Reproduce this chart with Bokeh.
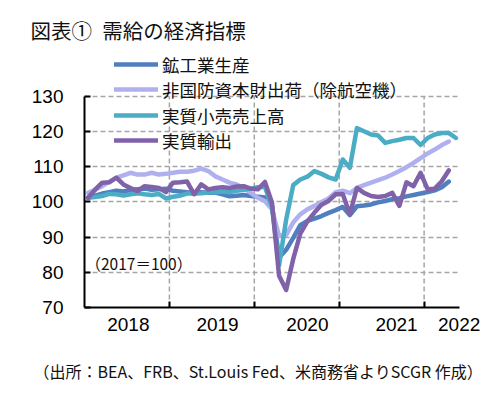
from bokeh.plotting import figure
from bokeh.models import FixedTicker, Legend, LegendItem, Title, Label, Range1d, LinearAxis
from bokeh.embed import file_html
from bokeh.resources import INLINE

# Monthly index, Jan 2018 = 0
ip = [101.2, 101.8, 102.4, 102.8, 103.2, 103.0, 103.4, 103.6, 103.8, 103.5, 103.6, 103.8,
      103.2, 103.0, 102.8, 102.4, 102.8, 102.6, 102.7, 102.2, 101.6, 101.8, 102.0, 101.7,
      101.5, 101.3, 98.9, 84.2, 86.4, 89.8, 93.4, 94.6, 95.3, 96.0, 96.9, 97.7,
      98.6, 96.3, 98.8, 99.0, 99.3, 99.9, 100.3, 100.8, 101.1, 101.6, 102.0, 102.4,
      102.8, 103.3, 104.2, 105.8]
capgoods = [102.6, 103.5, 104.5, 105.8, 106.9, 107.6, 108.3, 107.8, 107.8, 108.3, 107.8, 108.0,
            108.3, 108.6, 108.6, 108.9, 109.5, 108.8, 107.3, 106.4, 105.5, 105.0, 104.0, 102.6,
            101.2, 100.3, 97.9, 90.4, 90.6, 94.2, 96.5, 97.9, 98.9, 100.0, 101.0, 102.8,
            103.2, 102.5, 104.0, 104.8, 105.5, 106.2, 106.9, 107.8, 108.8, 109.9, 111.1, 112.5,
            113.8, 114.9, 116.2, 117.2]
retail = [101.2, 101.4, 101.7, 102.3, 102.2, 101.8, 102.2, 102.5, 102.2, 102.0, 102.3, 101.0,
          101.5, 101.8, 102.4, 102.4, 102.5, 102.7, 102.8, 103.0, 102.8, 103.2, 103.5, 103.8,
          104.2, 104.3, 98.5, 82.0, 95.0, 104.8, 106.4, 107.2, 108.8, 108.0, 107.0, 106.4,
          112.1, 109.7, 121.0, 120.1, 119.2, 118.9, 116.8, 117.3, 117.7, 118.2, 118.2, 116.2,
          118.2, 119.2, 119.6, 119.6, 118.2]
exports = [101.2, 103.5, 105.5, 105.6, 106.9, 105.0, 104.0, 103.1, 104.5, 104.3, 104.0, 102.8,
           105.5, 105.6, 105.8, 102.2, 105.0, 103.6, 104.0, 104.2, 104.0, 104.4, 104.5, 103.8,
           103.6, 105.7, 99.8, 79.0, 75.0, 83.8, 91.0, 94.5, 97.0, 99.2, 100.3, 102.2,
           102.3, 96.5, 104.0, 102.6, 101.7, 101.4, 101.7, 102.6, 98.9, 105.6, 104.5, 108.3,
           103.6, 103.8, 105.9, 109.0]

series_names = ["鉱工業生産", "非国防資本財出荷（除航空機）", "実質小売売上高", "実質輸出"]
series_colors = ["#4f7fbf", "#b0b0f0", "#4bacc6", "#7f62a8"]

year_boundaries = [12, 24, 36, 48]
year_labels = ["2018", "2019", "2020", "2021", "2022"]
year_label_pos = [6.2, 18.8, 31.5, 44.1, 52.95]
y_ticks = [70, 80, 90, 100, 110, 120, 130]

title_text = "図表①\u2002需給の経済指標"
source_text = "（出所：BEA、FRB、St.Louis Fed、米商務省よりSCGR 作成）"
base_text = "（2017＝100）"

JP = "Noto Sans CJK JP"
LAT = "Liberation Sans"
GRID = "#a6a6a6"

p = figure(width=487, height=393, output_backend="svg", toolbar_location=None,
           x_range=Range1d(0, 53), y_range=Range1d(70, 144.5),
           min_border_left=84, min_border_right=28, min_border_top=45, min_border_bottom=86)
p.outline_line_color = None
p.background_fill_color = "white"

p.title = Title(text=title_text, text_font=JP, text_font_size="20.5px", text_font_style="normal",
                text_color="#111111", offset=-54, standoff=1)

# vertical dashed grid lines between years (only across the value band)
p.segment(x0=year_boundaries, y0=[min(y_ticks)] * len(year_boundaries),
          x1=year_boundaries, y1=[max(y_ticks)] * len(year_boundaries),
          line_color=GRID, line_dash="5 3", line_width=1.5)

renderers = []
for vals, col in zip([ip, capgoods, retail, exports], series_colors):
    xs = [m + 0.5 for m in range(len(vals))]
    r = p.line(xs, vals, line_color=col, line_width=4.5, line_join="round", line_cap="round")
    renderers.append(r)

# legend: one fixed-height row per series, stacked from the bottom row upward
ROW_H = 32
ROW_PITCH = 25.4
BOTTOM_ROW_OFFSET = 151
n = len(series_names)
for i, (name, r) in enumerate(zip(series_names, renderers)):
    lg = Legend(items=[LegendItem(label=name, renderers=[r])],
                location=(30, round(BOTTOM_ROW_OFFSET + (n - 1 - i) * ROW_PITCH)),
                glyph_width=44, glyph_height=ROW_H, label_height=ROW_H, label_standoff=4,
                padding=0, margin=0, spacing=0, border_line_color=None, background_fill_alpha=0,
                label_text_font=JP, label_text_font_size="17.5px", label_text_color="#111111")
    p.add_layout(lg, "center")

# x axis
p.xaxis.ticker = FixedTicker(ticks=year_label_pos, minor_ticks=year_boundaries)
p.xaxis.major_label_overrides = {pos: lab for pos, lab in zip(year_label_pos, year_labels)}
p.xaxis.major_tick_line_color = None
p.xaxis.minor_tick_line_color = "black"
p.xaxis.minor_tick_line_width = 2
p.xaxis.minor_tick_in = 6
p.xaxis.minor_tick_out = 0
p.xaxis.major_tick_out = 0
p.xaxis.axis_line_color = "black"
p.xaxis.axis_line_width = 2
p.xaxis.major_label_standoff = 10
p.xaxis.major_label_text_font = LAT
p.xaxis.major_label_text_font_size = "19px"
p.xaxis.major_label_text_color = "black"

# y axis
p.yaxis.ticker = FixedTicker(ticks=y_ticks)
p.yaxis.bounds = (min(y_ticks), max(y_ticks))
p.yaxis.major_tick_in = 6
p.yaxis.major_tick_out = 0
p.yaxis.major_tick_line_width = 2
p.yaxis.major_tick_line_color = "black"
p.yaxis.minor_tick_line_color = None
p.yaxis.axis_line_color = "black"
p.yaxis.axis_line_width = 2
p.yaxis.major_label_standoff = 21
p.yaxis.major_label_text_font = LAT
p.yaxis.major_label_text_font_size = "19px"
p.yaxis.major_label_text_color = "black"

p.xgrid.visible = False
p.ygrid.ticker = FixedTicker(ticks=y_ticks)
p.ygrid.grid_line_color = GRID
p.ygrid.grid_line_dash = "5 3"
p.ygrid.grid_line_width = 1.5

p.add_layout(Label(x=0, y=82.7, x_offset=1, text=base_text, text_baseline="middle",
                   text_font=JP, text_font_size="15.5px", text_color="#111111"))

# invisible spacer between the year labels and the source note
spacer = LinearAxis(ticker=FixedTicker(ticks=[year_boundaries[1]]), axis_line_color=None,
                    major_tick_line_color=None, minor_tick_line_color=None,
                    major_tick_out=13, major_tick_in=0, minor_tick_out=0, minor_tick_in=0,
                    major_label_standoff=0, major_label_overrides={year_boundaries[1]: ""},
                    major_label_text_font_size="0px")
p.add_layout(spacer, "below")

p.add_layout(Title(text=source_text, text_font=JP, text_font_size="16px", text_font_style="normal",
                   text_color="#111111", offset=-51, standoff=20), "below")

open("out.html", "w").write(file_html(p, INLINE))
